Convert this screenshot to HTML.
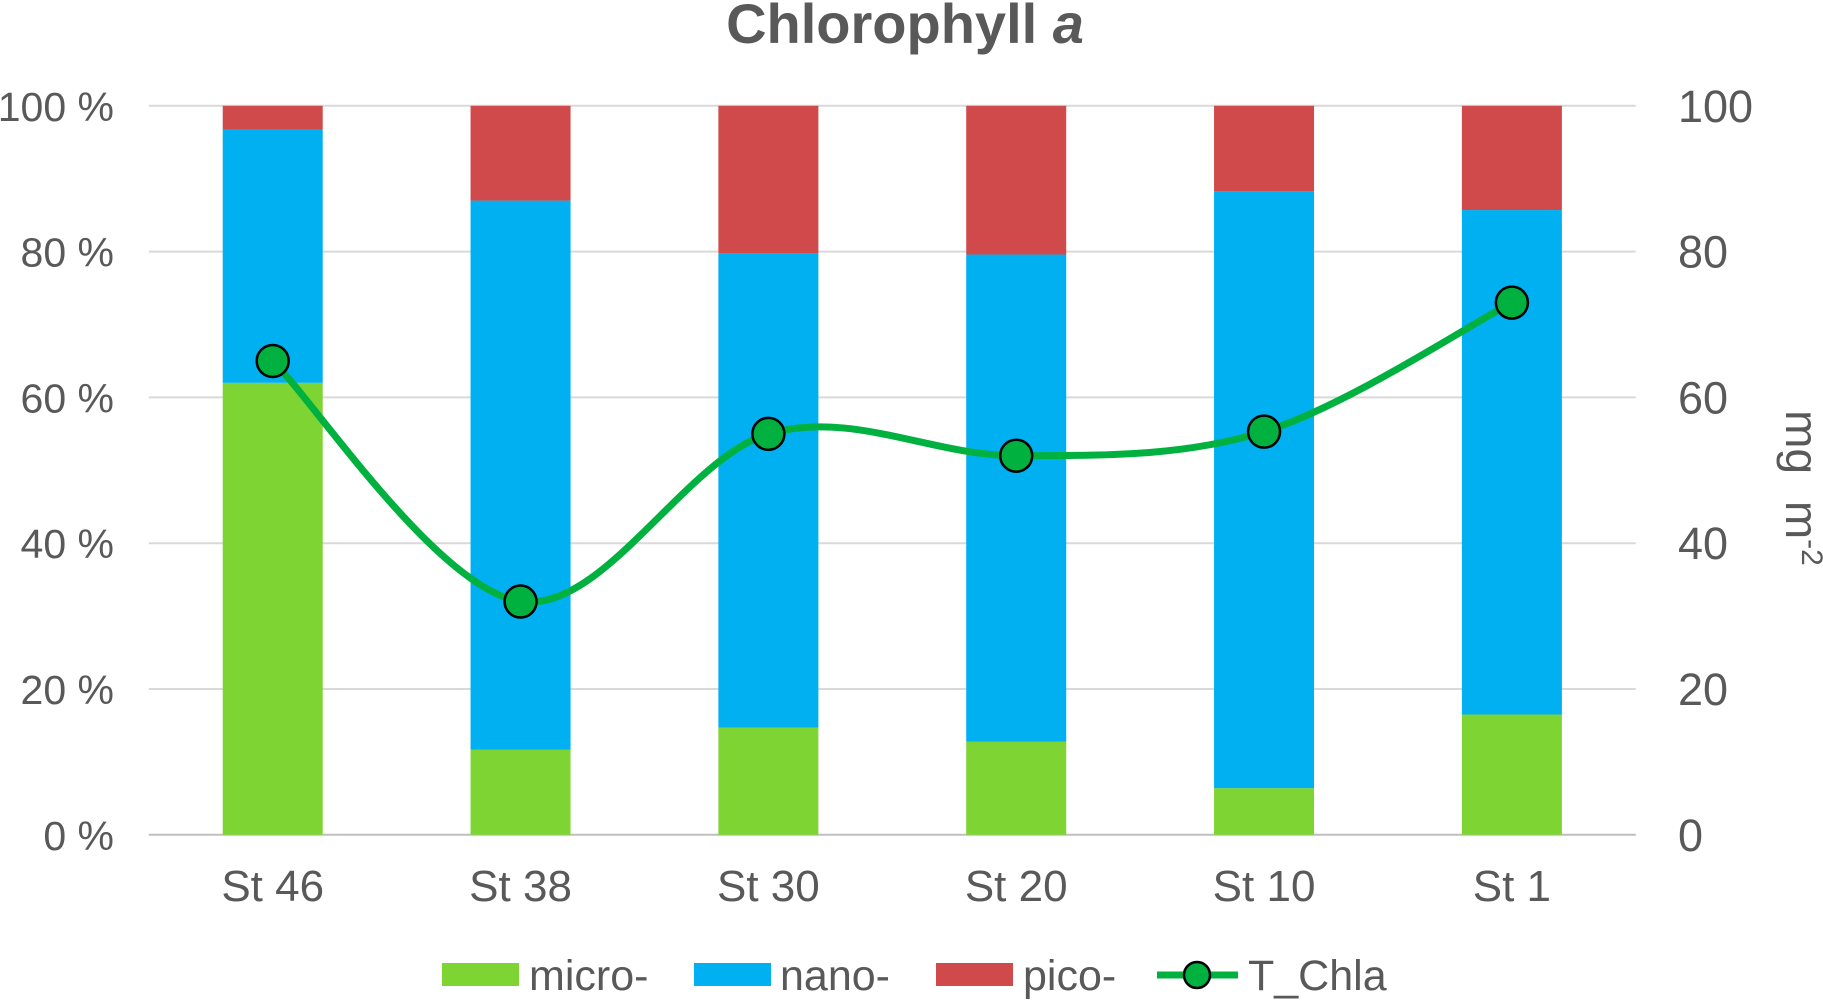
<!DOCTYPE html>
<html><head><meta charset="utf-8"><style>
body{margin:0;background:#fff;}
svg text{font-family:"Liberation Sans",Arial,sans-serif;fill:#595959;}
</style></head><body>
<svg id="chart" width="1823" height="1000" viewBox="0 0 1823 1000" xmlns="http://www.w3.org/2000/svg">
<text x="905" y="43" text-anchor="middle" font-size="56" font-weight="bold">Chlorophyll <tspan font-style="italic">a</tspan></text>
<g id="grid"></g><g id="bars"></g><g id="line"></g><g id="axes"></g>
<text transform="translate(1786,488) rotate(90)" text-anchor="middle" font-size="46" word-spacing="14">mg m<tspan baseline-shift="super" font-size="30">-2</tspan></text>
<g>
<rect x="442" y="963" width="77" height="23" fill="#7ED432"/>
<text x="529" y="990" font-size="43">micro-</text>
<rect x="694" y="963" width="77" height="23" fill="#00B0F0"/>
<text x="780" y="990" font-size="43">nano-</text>
<rect x="936" y="963" width="77" height="23" fill="#D0494B"/>
<text x="1023" y="990" font-size="43">pico-</text>
<line x1="1157" y1="975" x2="1238" y2="975" stroke="#00B140" stroke-width="7"/>
<circle cx="1197" cy="975" r="13" fill="#00B140" stroke="#000" stroke-width="2.5"/>
<text x="1248" y="990" font-size="43">T_Chla</text>
</g>
</svg>
<script>
const categories=["St 46","St 38","St 30","St 20","St 10","St 1"];
const micro=[62,11.7,14.7,12.8,6.4,16.5];
const nano=[34.7,75.3,65.1,66.8,81.9,69.2];
const pico=[3.3,13,20.2,20.4,11.7,14.3];
const tchla=[65,32,55,52,55.3,73];
const leftTicks=["0 %","20 %","40 %","60 %","80 %","100 %"];
const rightTicks=["0","20","40","60","80","100"];
const NS="http://www.w3.org/2000/svg";
const X0=148.8,X1=1635.8,Y0=834.8,Y1=105.8;
const step=(X1-X0)/categories.length;
const xc=i=>X0+step*(i+0.5);
const yp=v=>Y0-(Y0-Y1)*v/100;
const yr=v=>Y0-(Y0-Y1)*v/100;
function mk(tag,attrs,parent){const e=document.createElementNS(NS,tag);for(const k in attrs)e.setAttribute(k,attrs[k]);document.getElementById(parent).appendChild(e);return e;}
leftTicks.forEach((t,i)=>{const y=yp(i*20);
 const g=mk('line',{x1:X0,x2:X1,y1:y,y2:y,stroke:i==0?'#BFBFBF':'#D9D9D9','stroke-width':2},'grid');
 
 const a=mk('text',{x:114,y:y+15,'text-anchor':'end','font-size':41},'axes');a.textContent=t;
 
 const b=mk('text',{x:1678,y:y+16,'font-size':45},'axes');b.textContent=rightTicks[i];
 });
categories.forEach((c,i)=>{const w=100,x=xc(i)-w/2;let base=0;
 [[micro,'#7ED432','micro'],[nano,'#00B0F0','nano'],[pico,'#D0494B','pico']].forEach(([arr,col,n])=>{
  const top=base+arr[i];const r=mk('rect',{x:x,width:w,y:yp(top),height:yp(base)-yp(top),fill:col},'bars');
  base=top;});
 const t=mk('text',{x:xc(i),y:901,'text-anchor':'middle','font-size':44},'axes');t.textContent=c;
 });
const pts=tchla.map((v,i)=>[xc(i),yr(v)]);
let d='M'+pts[0][0]+','+pts[0][1];
for(let i=0;i<pts.length-1;i++){const p0=pts[Math.max(0,i-1)],p1=pts[i],p2=pts[i+1],p3=pts[Math.min(pts.length-1,i+2)];const k=6;
 d+=' C'+(p1[0]+(p2[0]-p0[0])/k)+','+(p1[1]+(p2[1]-p0[1])/k)+' '+(p2[0]-(p3[0]-p1[0])/k)+','+(p2[1]-(p3[1]-p1[1])/k)+' '+p2[0]+','+p2[1];}
const pl=mk('path',{d:d,fill:'none',stroke:'#00B140','stroke-width':7},'line');

pts.forEach(p=>{const c=mk('circle',{cx:p[0],cy:p[1],r:16,fill:'#00B140',stroke:'#000','stroke-width':2.5},'line');
 });
</script>
</body></html>
